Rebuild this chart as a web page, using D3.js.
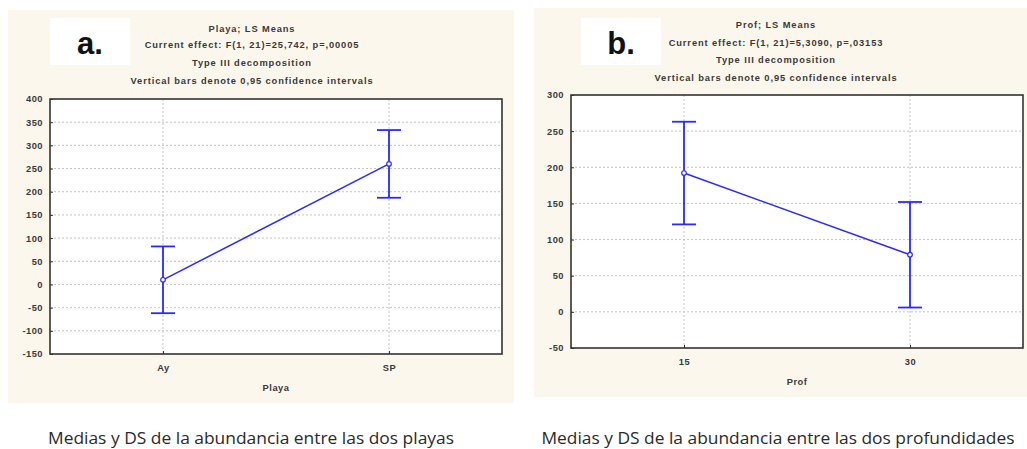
<!DOCTYPE html>
<html><head><meta charset="utf-8">
<script src="https://cdn.jsdelivr.net/npm/d3@7"></script>
<style>body{margin:0;background:#fff}svg{display:block}</style>
</head><body>
<svg id="c" width="1027" height="449"></svg>
<script>
// Panel a: Playa
const catsA = ["Ay", "SP"];
const meanA = [10, 260];
const lowA = [-62, 187];
const highA = [82, 333];
const ticksA = [-150, -100, -50, 0, 50, 100, 150, 200, 250, 300, 350, 400];
const titlesA = ["Playa; LS Means", "Current effect: F(1, 21)=25,742, p=,00005", "Type III decomposition", "Vertical bars denote 0,95 confidence intervals"];
// Panel b: Prof
const catsB = ["15", "30"];
const meanB = [192, 79];
const lowB = [121, 6];
const highB = [263, 152];
const ticksB = [-50, 0, 50, 100, 150, 200, 250, 300];
const titlesB = ["Prof; LS Means", "Current effect: F(1, 21)=5,3090, p=,03153", "Type III decomposition", "Vertical bars denote 0,95 confidence intervals"];

const svg = d3.select("#c");
const SF = "Liberation Sans, Arial, sans-serif";

function smallText(sel, size, ls) {
  return sel.attr("font-family", SF).attr("font-size", size || 9.3).attr("font-weight", "bold")
    .attr("letter-spacing", ls == null ? 0.5 : ls).attr("fill", "#3a3a3a");
}

function panel(o) {
  const g = svg.append("g");
  g.append("rect").attr("x", o.bg[0]).attr("y", o.bg[1]).attr("width", o.bg[2]).attr("height", o.bg[3]).attr("fill", "#fcf7ec");
  g.append("rect").attr("x", o.box[0]).attr("y", o.box[1]).attr("width", 80).attr("height", 47).attr("fill", "#fff");
  g.append("text").attr("x", o.box[0] + 40).attr("y", o.box[1] + 36).attr("text-anchor", "middle")
    .attr("font-family", SF).attr("font-weight", "bold").attr("font-size", 31).attr("fill", "#111").text(o.letter);
  o.titles.forEach((t, i) => {
    smallText(g.append("text").attr("x", o.tcx).attr("y", o.ty[i]).attr("text-anchor", "middle"), 9.3, 0.9).text(t);
  });
  const L = o.plot[0], T = o.plot[1], W = o.plot[2], H = o.plot[3];
  const x = d3.scalePoint().domain(o.cats).range([L, L + W]).padding(0.5);
  const y = d3.scaleLinear().domain([o.ticks[0], o.ticks[o.ticks.length - 1]]).range([T + H, T]);
  g.append("rect").attr("x", L).attr("y", T).attr("width", W).attr("height", H).attr("fill", "#fff");
  // gridlines
  g.selectAll(".hg").data(o.ticks.slice(1, -1)).join("line")
    .attr("x1", L).attr("x2", L + W).attr("y1", d => y(d)).attr("y2", d => y(d))
    .attr("stroke", "#c4c4c4").attr("stroke-width", 1).attr("stroke-dasharray", "2,2");
  g.selectAll(".vg").data(o.cats).join("line")
    .attr("x1", d => x(d)).attr("x2", d => x(d)).attr("y1", T).attr("y2", T + H)
    .attr("stroke", "#c4c4c4").attr("stroke-width", 1).attr("stroke-dasharray", "2,2");
  // axes
  const ya = g.append("g").attr("transform", `translate(${L},0)`)
    .call(d3.axisLeft(y).tickValues(o.ticks).tickSize(-3).tickPadding(7).tickFormat(d => String(d)));
  ya.select(".domain").remove();
  ya.selectAll("line").attr("stroke", "#333");
  smallText(ya.selectAll("text"));
  const xa = g.append("g").attr("transform", `translate(0,${T + H})`)
    .call(d3.axisBottom(x).tickSize(-3).tickPadding(10));
  xa.select(".domain").remove();
  xa.selectAll("line").attr("stroke", "#333");
  smallText(xa.selectAll("text"));
  smallText(g.append("text").attr("x", L + W / 2).attr("y", o.xty).attr("text-anchor", "middle")).text(o.xtitle);
  g.append("rect").attr("x", L).attr("y", T).attr("width", W).attr("height", H).attr("fill", "none").attr("stroke", "#333").attr("stroke-width", 1.6);
  // line
  const pts = o.cats.map((c, i) => [x(c), y(o.mean[i])]);
  g.append("path").attr("d", d3.line()(pts)).attr("fill", "none").attr("stroke", "#2a2aff").attr("stroke-width", 1.5);
  // error bars
  o.cats.forEach((c, i) => {
    const cx = x(c);
    g.append("line").attr("x1", cx).attr("x2", cx).attr("y1", y(o.low[i])).attr("y2", y(o.high[i])).attr("stroke", "#2a2aff").attr("stroke-width", 1.8);
    [o.low[i], o.high[i]].forEach(v => {
      g.append("line").attr("x1", cx - 12).attr("x2", cx + 12).attr("y1", y(v)).attr("y2", y(v)).attr("stroke", "#2a2aff").attr("stroke-width", 1.8);
    });
    g.append("circle").attr("cx", cx).attr("cy", y(o.mean[i])).attr("r", 2.3).attr("fill", "#fff").attr("stroke", "#2a2aff").attr("stroke-width", 1.2);
  });
  g.append("text").attr("x", o.cap[0]).attr("y", o.cap[1]).attr("text-anchor", "middle")
    .attr("font-family", "Open Sans, Noto Sans, sans-serif").attr("font-size", 17.2).attr("fill", "#2a2a2a")
    .attr("textLength", o.cap[2]).attr("lengthAdjust", "spacingAndGlyphs").text(o.caption);
}

panel({
  bg: [8, 10, 506, 393], box: [50, 18], letter: "a.", titles: titlesA, tcx: 252, ty: [32, 48, 66, 84],
  plot: [50, 99, 452, 255], cats: catsA, ticks: ticksA, mean: meanA, low: lowA, high: highA,
  xtitle: "Playa", xty: 391, cap: [251, 444, 406], caption: "Medias y DS de la abundancia entre las dos playas"
});
panel({
  bg: [534, 8, 493, 389], box: [581, 18], letter: "b.", titles: titlesB, tcx: 776, ty: [28, 46, 63, 81],
  plot: [571, 95, 452, 253], cats: catsB, ticks: ticksB, mean: meanB, low: lowB, high: highB,
  xtitle: "Prof", xty: 385, cap: [778, 444, 473], caption: "Medias y DS de la abundancia entre las dos profundidades"
});
</script>
</body></html>
